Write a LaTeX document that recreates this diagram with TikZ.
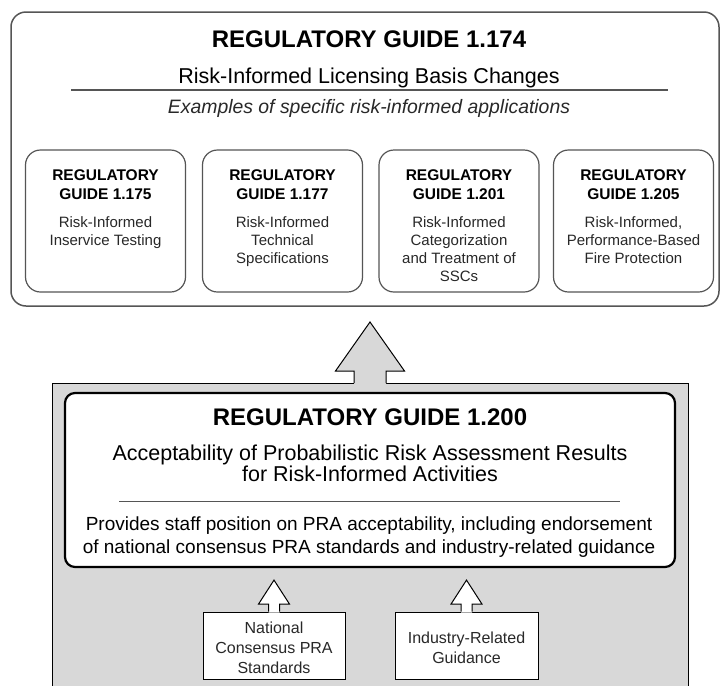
\documentclass[tikz,border=0pt]{standalone}
\usepackage{fontspec}
\setmainfont{Liberation Sans}
\usetikzlibrary{calc}

\definecolor{panelgray}{RGB}{216,216,216}
\definecolor{framegray}{RGB}{85,85,85}
\definecolor{textgray}{RGB}{40,40,40}

\newcommand{\bigtitlefont}{\fontsize{24}{28}\selectfont\bfseries}
\newcommand{\subtitlefont}{\fontsize{21.5}{21}\selectfont}
\newcommand{\examplefont}{\fontsize{19.4}{22}\selectfont\itshape}
\newcommand{\guidetitlefont}{\fontsize{15.5}{19}\selectfont\bfseries}
\newcommand{\guidetextfont}{\fontsize{15}{18}\selectfont}
\newcommand{\providesfont}{\fontsize{19}{23}\selectfont}
\newcommand{\sourcefont}{\fontsize{16}{20}\selectfont}

% block arrow: fill, from, tip, half shaft, half head, head length
\newcommand{\blockarrow}[6]{%
  \fill[#1] let \p1=(#2), \p2=(#3) in
    (\x1-#4pt,\y1-1.2pt) -- (\x1-#4pt,\y2-#6pt) -- (\x1-#5pt,\y2-#6pt) -- (\x1,\y2)
    -- (\x1+#5pt,\y2-#6pt) -- (\x1+#4pt,\y2-#6pt) -- (\x1+#4pt,\y1-1.2pt) -- cycle ;
  \draw[line width=1pt] let \p1=(#2), \p2=(#3) in
    (\x1-#4pt,\y1) -- (\x1-#4pt,\y2-#6pt) -- (\x1-#5pt,\y2-#6pt) -- (\x1,\y2)
    -- (\x1+#5pt,\y2-#6pt) -- (\x1+#4pt,\y2-#6pt) -- (\x1+#4pt,\y1) ;
}

\begin{document}
\begin{tikzpicture}[x=1pt,y=-1pt,
  outerbox/.style={draw=framegray, line width=1.5pt, rounded corners=15pt, fill=white, inner sep=0pt},
  guidebox/.style={draw=framegray, line width=1.2pt, rounded corners=15pt, fill=white,
    minimum width=160pt, minimum height=142pt, inner sep=0pt},
  panel/.style={draw, line width=1pt, fill=panelgray, inner sep=0pt},
  innerbox/.style={draw, line width=2.2pt, rounded corners=10pt, fill=white, inner sep=0pt},
  sourcebox/.style={draw, line width=1pt, fill=white, minimum height=67pt, inner sep=0pt},
  guidetitle/.style={anchor=base, align=center, inner sep=0pt, font=\guidetitlefont},
  guidetext/.style={anchor=base, align=center, inner sep=0pt, font=\guidetextfont, text=textgray},
  line/.style={anchor=base, inner sep=0pt}]
\useasboundingbox (0,0) rectangle (721,686);

% lower panel with RG 1.200 (multi-line texts sit on their last baseline)
\draw (370,383) node[panel, anchor=north, minimum width=636pt, minimum height=330pt] (rg200area) {} ;
\draw (370,480) node[innerbox, minimum width=610pt, minimum height=174pt] (rg200) {} ;

\draw (370,425) node[line, font=\bigtitlefont] (rg200title) {REGULATORY GUIDE 1.200} ;
\draw (370,481) node[line, align=center, font=\subtitlefont] (rg200sub)
  {Acceptability of Probabilistic Risk Assessment Results\\for Risk-Informed Activities} ;
\draw[framegray, line width=1pt] (119,501) -- (620,501) ;
\draw (369,553) node[line, align=center, font=\providesfont] (rg200text)
  {Provides staff position on PRA acceptability, including endorsement\\of national consensus PRA standards and industry-related guidance} ;

\draw (274,645.5) node[sourcebox, minimum width=142pt] (nat) {} ;
\draw (466.5,645.5) node[sourcebox, minimum width=143pt] (ind) {} ;
\draw (274,673) node[line, align=center, font=\sourcefont, text=textgray] (nattext)
  {National\\Consensus PRA\\Standards} ;
\draw (466.5,663) node[line, align=center, font=\sourcefont, text=textgray] (indtext)
  {Industry-Related\\Guidance} ;

\coordinate (nattip) at ($(nat.north |- rg200.south)+(0,12)$) ;
\coordinate (indtip) at ($(ind.north |- rg200.south)+(0,12)$) ;
\blockarrow{white}{nat.north}{nattip}{5.5}{15.5}{24}
\blockarrow{white}{ind.north}{indtip}{5.5}{15.5}{24}

% upper box with RG 1.174
\draw (365,159) node[outerbox, minimum width=708pt, minimum height=294pt] (rg174) {} ;
\coordinate (bigtip) at (370,322) ;
\blockarrow{panelgray}{rg200area.north}{bigtip}{16}{34.5}{49}

\draw (369,47) node[line, font=\bigtitlefont] (rg174title) {REGULATORY GUIDE 1.174} ;
\draw (369,83) node[line, font=\subtitlefont] (rg174sub) {Risk-Informed Licensing Basis Changes} ;
\draw[framegray, line width=1.2pt] (71,90) -- (668,90) ;
\draw (369,113) node[line, font=\examplefont, text=textgray] (rg174ex) {Examples of specific risk-informed applications} ;

\draw (105.5,221) node[guidebox] (rg175) {} ;
\draw (282.5,221) node[guidebox] (rg177) {} ;
\draw (459,221) node[guidebox] (rg201) {} ;
\draw (633.5,221) node[guidebox] (rg205) {} ;

\draw (105.5,199) node[guidetitle] (rg175title) {REGULATORY\\GUIDE 1.175} ;
\draw (282.5,199) node[guidetitle] (rg177title) {REGULATORY\\GUIDE 1.177} ;
\draw (459,199) node[guidetitle] (rg201title) {REGULATORY\\GUIDE 1.201} ;
\draw (633.5,199) node[guidetitle] (rg205title) {REGULATORY\\GUIDE 1.205} ;

\draw (105.5,245) node[guidetext] (rg175text) {Risk-Informed\\Inservice Testing} ;
\draw (282.5,263) node[guidetext] (rg177text) {Risk-Informed\\Technical\\Specifications} ;
\draw (459,281) node[guidetext] (rg201text) {Risk-Informed\\Categorization\\and Treatment of\\SSCs} ;
\draw (633.5,263) node[guidetext] (rg205text) {Risk-Informed,\\Performance-Based\\Fire Protection} ;
\end{tikzpicture}
\end{document}
